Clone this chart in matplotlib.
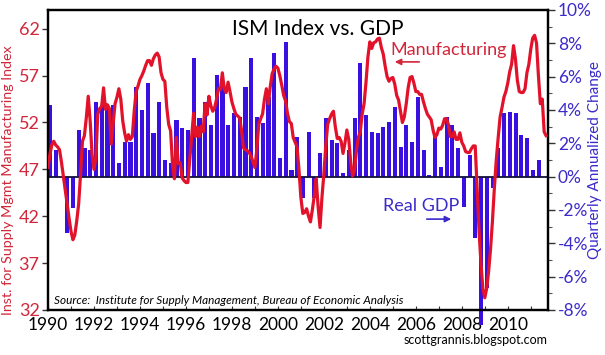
import numpy as np
import matplotlib
matplotlib.use("Agg")
import matplotlib.pyplot as plt
from matplotlib.ticker import MultipleLocator, FuncFormatter

plt.rcParams['font.family'] = ['Lato', 'DejaVu Sans']

# ---------------- data ----------------
ism_start_year = 1990          # monthly, starting Jan 1990
ism_1990 = [47.2, 48.6, 49.6, 50.0, 49.6, 49.4, 49.1, 47.8, 46.3, 44.8, 43.3, 41.8]
ism_1991 = [40.4, 39.5, 40.0, 41.5, 43.3, 46.5, 50.0, 50.6, 52.5, 54.8, 52.2, 48.6]
ism_1992 = [47.0, 48.3, 52.9, 53.5, 53.7, 55.7, 53.4, 53.9, 53.5, 49.7, 51.8, 54.0]
ism_1993 = [54.7, 55.6, 54.5, 52.2, 50.9, 50.0, 50.7, 50.2, 50.5, 53.2, 55.3, 55.9]
ism_1994 = [56.6, 57.0, 57.5, 58.1, 58.6, 58.6, 58.1, 58.8, 59.2, 59.4, 59.0, 57.3]
ism_1995 = [56.6, 56.4, 53.6, 51.8, 51.1, 47.5, 46.0, 50.4, 47.6, 47.7, 46.1, 45.8]
ism_1996 = [45.6, 45.6, 48.0, 50.5, 53.0, 50.5, 51.5, 50.5, 51.6, 51.0, 54.0, 52.8]
ism_1997 = [54.8, 53.8, 53.2, 53.6, 54.5, 55.6, 55.5, 57.3, 55.6, 55.2, 56.3, 55.3]
ism_1998 = [54.2, 53.5, 52.9, 52.7, 52.5, 51.2, 49.3, 49.1, 49.0, 48.8, 48.4, 47.8]
ism_1999 = [47.2, 49.1, 51.8, 52.4, 52.9, 54.5, 55.6, 54.0, 55.8, 57.2, 57.7, 58.0]
ism_2000 = [57.8, 57.0, 56.0, 54.9, 54.3, 53.0, 52.1, 51.9, 50.4, 49.9, 49.4, 47.0]
ism_2001 = [44.0, 42.3, 42.4, 42.8, 42.0, 41.4, 42.7, 44.2, 46.0, 43.0, 40.8, 44.0]
ism_2002 = [46.5, 49.5, 51.8, 52.4, 52.9, 53.2, 51.5, 50.3, 50.4, 50.0, 48.7, 49.8]
ism_2003 = [51.2, 50.2, 47.8, 46.3, 46.9, 49.0, 50.4, 51.0, 52.9, 54.0, 56.3, 59.0]
ism_2004 = [60.6, 59.9, 60.5, 60.6, 60.9, 61.0, 60.0, 59.3, 58.0, 56.9, 56.4, 56.7]
ism_2005 = [56.8, 56.1, 54.9, 54.4, 53.2, 52.0, 52.6, 54.0, 55.7, 56.8, 56.9, 56.2]
ism_2006 = [55.3, 55.3, 55.0, 55.0, 54.2, 53.5, 52.9, 52.6, 52.3, 51.2, 50.4, 50.7]
ism_2007 = [51.4, 51.3, 51.7, 52.4, 52.4, 51.8, 50.5, 50.5, 51.0, 50.2, 50.2, 50.9]
ism_2008 = [49.9, 49.5, 48.9, 48.8, 48.8, 49.2, 49.5, 49.5, 45.0, 40.5, 37.0, 34.3]
ism_2009 = [33.3, 34.3, 36.1, 38.5, 41.5, 45.0, 48.0, 50.4, 52.6, 53.6, 54.7, 55.3]
ism_2010 = [56.2, 57.4, 58.2, 60.2, 58.8, 56.5, 55.3, 55.2, 55.2, 55.6, 57.3, 58.2]
ism_2011 = [59.8, 61.0, 61.3, 60.5, 57.0, 54.0, 54.5, 51.0, 50.6]

gdp_start_year = 1990          # quarterly, starting 1990 Q1, annualized % change
gdp_1990s = [4.3, 1.6, 0.0, -3.4,  -1.9, 2.8, 1.7, 1.6,  4.5, 4.3, 4.2, 4.3,
             0.8, 2.1, 2.1, 5.4,   4.0, 5.6, 2.6, 4.5,   1.0, 0.8, 3.4, 2.9,
             2.8, 7.1, 3.5, 4.5,   3.1, 6.1, 5.6, 3.1,   3.8, 3.6, 5.4, 7.1,
             3.6, 3.2, 4.8, 7.4]
gdp_2000s = [1.1, 8.1, 0.4, 2.4,  -1.3, 2.7, -1.3, 1.4,  3.5, 2.2, 2.0, 0.2,
             1.6, 3.5, 6.8, 3.7,   2.7, 2.6, 3.0, 3.3,   4.2, 1.8, 3.1, 2.1,
             4.8, 1.6, 0.1, 2.4,   0.6, 3.6, 3.1, 1.7,  -1.8, 1.3, -3.7, -8.9,
             -6.7, -0.7, 1.7, 3.8]
gdp_2010s = [3.9, 3.8, 2.5, 2.3,  0.4, 1.0]

left_ticks = [32, 37, 42, 47, 52, 57, 62]
right_ticks = [-8, -6, -4, -2, 0, 2, 4, 6, 8, 10]
year_ticks = [1990, 1992, 1994, 1996, 1998, 2000, 2002, 2004, 2006, 2008, 2010]

title = "ISM Index vs. GDP"
left_label = "Inst. for Supply Mgmt Manufacturing Index"
right_label = "Quarterly Annualized Change"
source_text = "Source:  Institute for Supply Management, Bureau of Economic Analysis"
credit_text = "scottgrannis.blogspot.com"

# ---------------- assemble ----------------
ism = np.array(ism_1990 + ism_1991 + ism_1992 + ism_1993 + ism_1994 + ism_1995 +
               ism_1996 + ism_1997 + ism_1998 + ism_1999 + ism_2000 + ism_2001 +
               ism_2002 + ism_2003 + ism_2004 + ism_2005 + ism_2006 + ism_2007 +
               ism_2008 + ism_2009 + ism_2010 + ism_2011)
ism_x = ism_start_year + np.arange(len(ism)) / 12.0
gdp = np.array(gdp_1990s + gdp_2000s + gdp_2010s)
gdp_x = gdp_start_year + np.arange(len(gdp)) / 4.0

RED = '#E3122B'
BLUE = '#3A10E0'
RED_TXT = '#D2263A'
BLUE_TXT = '#3B2BCB'

fig = plt.figure(figsize=(6.05, 3.55), dpi=100)
fig.patch.set_facecolor('white')
ax_g = fig.add_axes([48/605, 1-310/355, 500/605, 300/355])
ax_i = ax_g.twinx()

# GDP bars (right axis)
ax_g.bar(gdp_x, gdp, width=0.18, align='edge', color=BLUE, edgecolor='none',
         clip_on=False, zorder=2)
ax_g.axhline(0, color='#10103A', lw=1.3, zorder=3)
ax_g.set_ylim(-8, 10)
ax_g.set_xlim(1990, 2011.75)
ax_g.yaxis.tick_right()
ax_g.yaxis.set_label_position('right')
ax_g.set_yticks(right_ticks)
ax_g.yaxis.set_minor_locator(MultipleLocator(1))
ax_g.yaxis.set_major_formatter(FuncFormatter(lambda v, p: f"{int(v)}%"))
ax_g.tick_params(axis='y', which='major', direction='out', length=5, width=1,
                 colors='#333333', labelcolor=BLUE_TXT, labelsize=12.5, pad=2)
ax_g.tick_params(axis='y', which='minor', direction='out', length=3, width=0.8,
                 colors='#555555')
ax_g.set_ylabel(right_label, color=BLUE_TXT, fontsize=11, rotation=90)
ax_g.yaxis.set_label_coords(1.08, 0.5)

ax_g.set_xticks(year_ticks)
ax_g.xaxis.set_minor_locator(MultipleLocator(1))
ax_g.tick_params(axis='x', which='both', direction='in', length=3, width=0.8,
                 labelsize=12.5, pad=5, colors='#333333', labelcolor='black')

# ISM line (left axis)
ax_i.plot(ism_x, ism, color=RED, lw=2.3, solid_joinstyle='round', zorder=4)
ax_i.set_ylim(32, 64)
ax_i.yaxis.tick_left()
ax_i.yaxis.set_label_position('left')
ax_i.set_yticks(left_ticks)
ax_i.tick_params(axis='y', direction='out', length=4, width=1, colors='#333333',
                 labelcolor=RED_TXT, labelsize=13, pad=2)
ax_i.set_ylabel(left_label, color=RED_TXT, fontsize=10.3, rotation=90)
ax_i.yaxis.set_label_coords(-0.068, 0.433)

for a in (ax_g, ax_i):
    for s in a.spines.values():
        s.set_linewidth(1.6)
        s.set_color('black')

# texts
ax_i.text(0.54, 0.935, title, transform=ax_i.transAxes, ha='center', va='center',
          fontsize=15, color='black')
ax_i.text(0.012, 0.03, source_text, transform=ax_i.transAxes, ha='left',
          va='center', fontsize=8.5, style='italic', color='black')
fig.text(548/605, 1-340/355, credit_text, ha='right', va='center', fontsize=9,
         color='black')

ax_i.text(0.801, 0.867, "Manufacturing", transform=ax_i.transAxes, ha='center',
          va='center', fontsize=13, color=RED_TXT)
ax_i.annotate("", xy=(0.688, 0.827), xytext=(0.748, 0.827),
              xycoords='axes fraction', textcoords='axes fraction',
              arrowprops=dict(arrowstyle='-|>', color=RED_TXT, lw=1.2,
                              mutation_scale=9))
ax_i.text(0.746, 0.347, "Real GDP", transform=ax_i.transAxes, ha='center',
          va='center', fontsize=13, color=BLUE_TXT)
ax_i.annotate("", xy=(0.812, 0.303), xytext=(0.752, 0.303),
              xycoords='axes fraction', textcoords='axes fraction',
              arrowprops=dict(arrowstyle='-|>', color=BLUE_TXT, lw=1.2,
                              mutation_scale=9))

fig.savefig('out.png', dpi=100, facecolor='white')
